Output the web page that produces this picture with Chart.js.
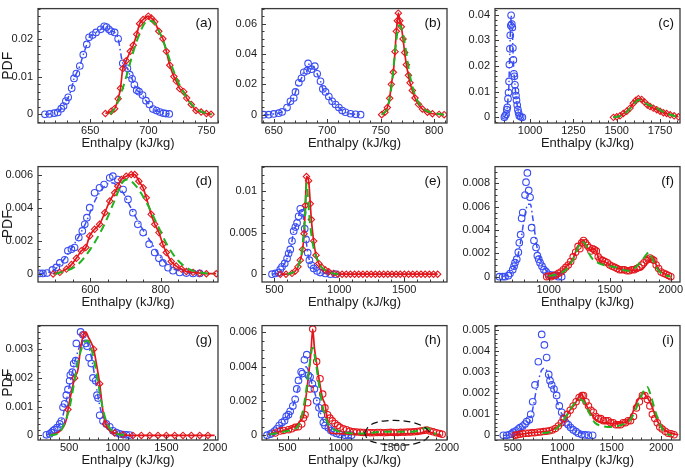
<!DOCTYPE html>
<html>
<head>
<meta charset="utf-8">
<script src="https://cdn.jsdelivr.net/npm/chart.js@4.4.0/dist/chart.umd.min.js"></script>
<style>
  html, body { margin: 0; padding: 0; background: #fff; width: 685px; height: 468px; overflow: hidden; position: relative; }
  canvas { position: absolute; }
</style>
</head>
<body>
<script>
// ─────────────────────────────────────────────────────────────
// Data (x = enthalpy kJ/kg, y = PDF)
// ─────────────────────────────────────────────────────────────

// (a)
const aXTicks = [650, 700, 750];
const aYTicks = [0, 0.01, 0.02];
const aBlue = [[611,0],[615,0.0001],[619,0.0003],[622,0.0005],[625,0.0015],[627,0.0022],[629,0.0035],[631,0.0045],[634,0.0069],[636,0.0095],[638,0.0108],[641,0.0128],[644,0.0158],[647,0.0185],[649,0.0204],[652,0.021],[655,0.0217],[659,0.0225],[662,0.0233],[664,0.0231],[666,0.0225],[668,0.022],[671,0.0217],[674,0.02],[678,0.0135],[682,0.0122],[684,0.0105],[686,0.0094],[688,0.0078],[690,0.0064],[692,0.006],[695,0.0051],[698,0.0036],[701,0.0026],[704,0.0014],[707,0.001],[710,0.0006],[713,0.0003],[715,0.0002],[718,0.0001]];
const aRed = [[663,0.0002],[668,0.0008],[671,0.0015],[674,0.0041],[676,0.0069],[678,0.0121],[681,0.0142],[684.5,0.0167],[687,0.0183],[690,0.0212],[692.5,0.024],[695.5,0.0251],[700,0.026],[702.5,0.0255],[705.5,0.0245],[709,0.022],[712.5,0.02],[715.5,0.0167],[718.5,0.013],[722,0.01],[724,0.0088],[727,0.0068],[730.5,0.006],[733,0.0043],[737,0.0026],[741,0.001],[745.5,0.0006],[750,0.0002],[754,0]];
const aGreen = [[667,0],[672,0.002],[677,0.006],[682,0.011],[687,0.0165],[692,0.021],[697,0.0242],[701,0.0248],[705,0.0243],[710,0.0215],[715,0.0175],[720,0.013],[725,0.009],[730,0.006],[735,0.0035],[740,0.0018],[745,0.0008],[750,0.0003],[755,0]];

// (b)
const bXTicks = [650, 700, 750, 800];
const bYTicks = [0, 0.02, 0.04, 0.06];
const bBlue = [[640.6,0],[645.3,0],[650,0.0005],[654.6,0.001],[657.8,0.0018],[662.4,0.0047],[665.6,0.0088],[668.7,0.011],[670.3,0.015],[673.4,0.021],[675.9,0.024],[678.1,0.028],[681.2,0.029],[682.1,0.0338],[685.3,0.03],[688.4,0.032],[690.6,0.027],[693.7,0.022],[695.9,0.017],[698.4,0.015],[701.5,0.012],[704.6,0.0088],[707.8,0.0067],[710.9,0.0047],[714,0.0027],[717.1,0.0016],[721.8,0.0006],[726.5,0.0002],[731.2,0]];
const bRed = [[750.9,0],[754,0.0016],[756.2,0.0047],[758.4,0.0108],[759.9,0.02],[761.8,0.028],[763.4,0.0416],[764.6,0.055],[765.6,0.062],[766.5,0.067],[767.8,0.062],[769.3,0.058],[770.9,0.05],[772.4,0.041],[774,0.033],[775.9,0.026],[777.4,0.021],[779.6,0.016],[782.1,0.011],[785.3,0.0068],[789,0.0037],[793.7,0.0016],[798.4,0.0006],[804.6,0.0002],[809.3,0]];
const bGreen = [[751,0],[756,0.004],[760,0.018],[764,0.045],[767,0.059],[770,0.056],[773,0.045],[777,0.027],[782,0.013],[790,0.004],[800,0.001],[809,0]];

// (c)
const cXTicks = [1000, 1250, 1500, 1750];
const cYTicks = [0, 0.01, 0.02, 0.03, 0.04];
const cBlue = [[852,0],[856,0.0006],[862,0.0012],[866,0.003],[869,0.0039],[873,0.0073],[876,0.0097],[879,0.014],[881,0.0206],[884,0.0267],[886,0.032],[889,0.0358],[891,0.0398],[895,0.0364],[898,0.035],[901,0.027],[904,0.0224],[907,0.017],[910,0.016],[913,0.0127],[916,0.0103],[919,0.0085],[922,0.0067],[926,0.0048],[930,0.003],[934,0.0018],[938,0.0006],[946,0.0002],[956,0]];
const cRed = [[1481,0],[1500,0.0002],[1519,0.0006],[1538,0.0015],[1558,0.0024],[1577,0.0036],[1596,0.0055],[1611,0.0067],[1625,0.0073],[1644,0.007],[1660,0.006],[1677,0.0048],[1692,0.0042],[1711,0.0036],[1731,0.003],[1750,0.0024],[1769,0.0018],[1788,0.0015],[1808,0.001],[1831,0.0006],[1856,0.0002]];
const cGreen = [[1480,0],[1520,0.0006],[1560,0.0022],[1600,0.0052],[1625,0.0068],[1645,0.0065],[1675,0.0052],[1700,0.0045],[1720,0.0042],[1750,0.0028],[1790,0.0015],[1830,0.0006],[1856,0.0002]];

// (d)
const dXTicks = [600, 800];
const dYTicks = [0, 0.002, 0.004, 0.006];
const dBlue = [[456,0.00004],[465,0.00004],[477,0.00006],[492,0.00025],[503,0.0004],[513,0.00067],[527,0.00086],[536,0.0014],[546,0.0015],[555,0.0016],[567,0.0022],[577,0.0026],[584,0.003],[590,0.0034],[598,0.004],[612,0.0049],[626,0.0052],[639,0.0054],[655,0.0058],[664,0.0059],[678,0.0057],[693,0.0051],[707,0.0045],[721,0.0037],[735,0.003],[750,0.0025],[767,0.0018],[783,0.0013],[795,0.00095],[806,0.00067],[821,0.00038],[835,0.0002],[854,0.0001],[873,0.00006],[892,0.00004],[911,0.00004]];
const dBlueLine = [[455,0],[500,0.0003],[545,0.0015],[585,0.003],[615,0.0045],[640,0.0053],[660,0.0055],[690,0.005],[715,0.004],[740,0.003],[770,0.002],[800,0.001],[830,0.0004],[870,0.0001],[900,0]];
const dRed = [[494,0],[513,0.0001],[532,0.0003],[546,0.00057],[560,0.00095],[574,0.0014],[587,0.0016],[598,0.0023],[612,0.0027],[626,0.003],[641,0.0037],[655,0.0044],[669,0.0049],[678,0.0053],[688,0.0057],[702,0.0059],[716,0.006],[726,0.006],[738,0.0056],[750,0.0052],[759,0.0046],[773,0.0036],[783,0.003],[795,0.0025],[806,0.0018],[816,0.0013],[830,0.00076],[844,0.00048],[859,0.0003],[873,0.00015],[892,0.0001],[911,0.00005],[930,0.00002],[958,0.00002]];
const dGreen = [[500,0],[560,0.0005],[600,0.0015],[640,0.003],[670,0.0045],[690,0.0055],[705,0.0057],[730,0.0053],[760,0.0043],[790,0.003],[820,0.0017],[850,0.0008],[880,0.0003],[910,0.0001],[950,0]];

// (e)
const eXTicks = [500, 1000, 1500];
const eYTicks = [0, 0.005, 0.01];
const eBlue = [[482,0],[508,0.0001],[533,0.0002],[546,0.0006],[559,0.0009],[580,0.0013],[598,0.0019],[610,0.0025],[623,0.003],[636,0.004],[649,0.0052],[662,0.0057],[675,0.0062],[687,0.007],[700,0.0079],[718,0.0074],[734,0.0055],[744,0.0042],[757,0.0026],[770,0.0017],[785,0.0011],[803,0.0007],[829,0.0004],[854,0.0002],[893,0.0001],[931,0],[970,0]];
const eRed = [[546,0],[590,0],[636,0.0001],[662,0.0004],[682,0.0009],[700,0.0017],[718,0.003],[729,0.0049],[739,0.0083],[747,0.0118],[764,0.0113],[777,0.0085],[785,0.0066],[803,0.004],[821,0.0023],[842,0.0013],[867,0.0008],[893,0.0005],[919,0.0003],[957,0.0001],[990,0],[1022,0],[1054,0],[1086,0],[1118,0],[1150,0],[1182,0],[1214,0],[1246,0],[1278,0],[1310,0],[1342,0],[1374,0],[1406,0],[1438,0],[1470,0],[1502,0],[1534,0],[1566,0],[1598,0],[1630,0],[1662,0],[1694,0],[1726,0],[1758,0]];
const eGreen = [[600,0],[660,0.0004],[690,0.0012],[710,0.0025],[725,0.0045],[738,0.0075],[748,0.011],[758,0.0095],[770,0.007],[785,0.0048],[805,0.003],[830,0.0018],[860,0.0009],[900,0.0004],[950,0.0001],[1000,0]];

// (f)
const fXTicks = [1000, 1500, 2000];
const fYTicks = [0, 0.002, 0.004, 0.006, 0.008];
const fBlue = [[596,0],[623,0],[642,0],[669,0.00008],[683,0.00027],[705,0.0006],[716,0.0009],[724,0.0012],[738,0.0015],[751,0.0021],[759,0.0029],[770,0.0036],[778,0.005],[787,0.0055],[806,0.007],[814,0.0081],[825,0.0089],[836,0.0074],[847,0.0068],[860,0.0042],[879,0.0031],[896,0.0025],[907,0.0018],[918,0.0015],[929,0.0012],[945,0.0009],[961,0.0006],[978,0.00043],[997,0.0002],[1024,0.00014],[1051,0.0001],[1079,0],[1106,0]];
const fBlueLine = [[620,0],[700,0.0004],[740,0.0015],[770,0.003],[800,0.005],[830,0.0062],[850,0.0062],[870,0.005],[890,0.0035],[910,0.0022],[940,0.0012],[980,0.0005],[1020,0.0002],[1080,0]];
const fRed = [[983,0],[1000,0.00005],[1020,0],[1040,0.0001],[1060,0.00015],[1080,0.0003],[1100,0.0004],[1120,0.0006],[1140,0.0008],[1160,0.001],[1180,0.0013],[1200,0.0017],[1220,0.0021],[1240,0.0026],[1255,0.0024],[1270,0.0029],[1285,0.0031],[1300,0.0029],[1315,0.0027],[1330,0.0025],[1345,0.0022],[1360,0.0024],[1375,0.0023],[1390,0.0022],[1405,0.0017],[1420,0.0015],[1440,0.0014],[1460,0.0013],[1480,0.0012],[1500,0.001],[1520,0.0009],[1540,0.0008],[1560,0.0007],[1580,0.0006],[1600,0.0006],[1620,0.0006],[1640,0.0005],[1660,0.0005],[1680,0.0006],[1700,0.0006],[1720,0.0007],[1740,0.0008],[1760,0.001],[1780,0.0012],[1800,0.0014],[1815,0.0015],[1830,0.0016],[1845,0.0015],[1860,0.0014],[1880,0.001],[1900,0.0007],[1920,0.0004],[1940,0.0003],[1960,0.0002],[1980,0.0001],[2000,0]];
const fRedLine = [[983,0],[1010,0],[1038,0.00008],[1065,0.0002],[1092,0.00035],[1120,0.0006],[1147,0.0009],[1174,0.0012],[1202,0.0016],[1229,0.0024],[1256,0.0029],[1280,0.0031],[1305,0.0027],[1324,0.0024],[1352,0.0023],[1371,0.0024],[1393,0.0021],[1415,0.0014],[1447,0.0013],[1502,0.001],[1556,0.00076],[1611,0.0006],[1666,0.00054],[1720,0.00054],[1761,0.0006],[1789,0.0009],[1816,0.0013],[1843,0.0016],[1862,0.0015],[1884,0.0009],[1911,0.0005],[1939,0.0003],[1966,0.00016],[1993,0.00008]];
const fGreen = [[1000,0.00005],[1100,0.0003],[1150,0.0007],[1200,0.0015],[1240,0.0025],[1270,0.003],[1300,0.0028],[1330,0.002],[1360,0.0015],[1400,0.0012],[1450,0.001],[1500,0.0009],[1550,0.0008],[1600,0.0006],[1650,0.0005],[1700,0.0007],[1750,0.0012],[1800,0.0019],[1820,0.0021],[1850,0.0015],[1880,0.0008],[1920,0.0003],[1960,0.0001],[2000,0]];

// (g)
const gXTicks = [500, 1000, 1500, 2000];
const gYTicks = [0, 0.001, 0.002, 0.003];
const gBlue = [[266,0.00002],[300,0.00005],[317,0.0001],[334,0.00016],[351,0.0002],[375,0.00027],[403,0.0004],[420,0.0005],[437,0.00098],[454,0.0011],[471,0.0014],[488,0.0016],[505,0.0019],[512,0.0021],[533,0.0022],[547,0.0025],[567,0.0026],[574,0.0032],[618,0.0036],[642,0.0035],[670,0.0032],[684,0.0031],[704,0.0027],[728,0.0025],[745,0.002],[773,0.0019],[786,0.0014],[797,0.0013],[814,0.0007],[848,0.0005],[882,0.0004],[917,0.0003],[951,0.00016],[985,0.0001],[1019,0.00005],[1054,0.00003],[1088,0.00002],[1122,0.00001]];
const gBlueLine = [[266,0],[350,0.0002],[420,0.0005],[470,0.0012],[520,0.002],[570,0.0027],[620,0.0032],[650,0.0033],[690,0.0032],[730,0.0027],[770,0.0019],[810,0.0011],[850,0.0006],[900,0.0003],[960,0.0001],[1050,0],[1120,0]];
const gRed = [[488,0.0009],[557,0.002],[643,0.0035],[752,0.003],[814,0.0018],[875,0.0004],[968,0.00008],[1054,0.00002],[1156,0],[1242,0],[1328,0],[1413,0],[1499,0],[1585,0],[1670,0],[1756,0],[1842,0],[1927,0]];
const gRedLine = [[300,0],[386,0.0001],[437,0.00027],[471,0.00055],[488,0.0009],[523,0.0015],[557,0.002],[591,0.0023],[620,0.0031],[650,0.0035],[670,0.0036],[700,0.0034],[730,0.0032],[752,0.003],[780,0.0025],[814,0.0018],[845,0.0009],[875,0.0004],[920,0.00015],[968,0.00008],[1054,0.00002],[1156,0],[1996,0]];
const gGreen = [[300,0],[400,0.0001],[450,0.0004],[500,0.0009],[550,0.0018],[600,0.0027],[650,0.0032],[690,0.0033],[730,0.003],[780,0.0022],[830,0.0012],[880,0.0005],[930,0.0002],[1000,0.00005],[1100,0]];

// (h)
const hXTicks = [500, 1000, 1500, 2000];
const hYTicks = [0, 0.002, 0.004, 0.006];
const hBlue = [[307,0],[338,0.00006],[353,0.00013],[378,0.00024],[400,0.00037],[422,0.00056],[447,0.00074],[472,0.00084],[488,0.0011],[509,0.0012],[525,0.0014],[550,0.0017],[572,0.0021],[587,0.0027],[603,0.0032],[628,0.0037],[640,0.0036],[659,0.0044],[681,0.0047],[696,0.0035],[712,0.0034],[734,0.003],[753,0.0027],[774,0.002],[796,0.0016],[821,0.0012],[837,0.00074],[852,0.00056],[884,0.00043],[908,0.00028],[930,0.00019],[961,0.0001],[993,0.00004],[1040,0],[1071,0],[1102,0]];
const hBlueLine = [[307,0],[400,0.0003],[450,0.0006],[500,0.0011],[550,0.0017],[590,0.0025],[620,0.0033],[650,0.0038],[675,0.004],[700,0.0037],[730,0.003],[760,0.0024],[790,0.0017],[820,0.0011],[850,0.0007],[900,0.0003],[960,0.0001],[1040,0],[1100,0]];
const hRed = [[385,0.00013],[431,0.00024],[463,0.00028],[509,0.00032],[541,0.00037],[572,0.00046],[603,0.0005],[634,0.00065],[650,0.001],[665,0.0012],[690,0.0019],[712,0.0027],[737,0.0062],[774,0.0043],[806,0.0033],[831,0.0024],[852,0.0016],[877,0.0012],[899,0.001],[921,0.00084],[946,0.00069],[971,0.00056],[993,0.00046],[1024,0.00037],[1055,0.00032],[1086,0.00024],[1120,0.0002],[1150,0.00018],[1185,0.00017],[1215,0.00016],[1250,0.00016],[1280,0.00015],[1310,0.00015],[1345,0.00016],[1375,0.00016],[1410,0.00015],[1440,0.00016],[1470,0.00017],[1500,0.00016],[1535,0.00016],[1565,0.00017],[1600,0.00017],[1630,0.00018],[1660,0.00018],[1690,0.0002],[1720,0.00022],[1750,0.00024],[1780,0.00028],[1810,0.0003],[1840,0.00025],[1870,0.0002],[1900,0.00015],[1930,0.0001],[1955,0.00006]];
const hRedLine = [[322,0.00004],[385,0.00015],[447,0.00024],[509,0.00037],[556,0.0005],[587,0.00056],[619,0.00084],[650,0.0011],[665,0.0018],[696,0.0034],[721,0.0049],[737,0.0062],[753,0.0051],[774,0.0042],[799,0.0032],[828,0.0022],[852,0.0018],[868,0.0012],[890,0.00028],[908,0.00013],[946,0.0001],[1164,0.00006],[1476,0.00006],[1663,0.0001],[1757,0.00013],[1803,0.00024],[1835,0.00019],[1881,0.0001],[1944,0]];
const hGreen = [[330,0.00005],[400,0.00012],[500,0.00025],[580,0.0004],[620,0.0008],[650,0.0016],[680,0.0028],[710,0.0042],[735,0.0051],[760,0.0045],[790,0.0032],[820,0.002],[850,0.0012],[880,0.0007],[920,0.0004],[970,0.00025],[1050,0.00015],[1150,0.0001],[1250,0.00012],[1350,0.00018],[1450,0.0002],[1550,0.0002],[1650,0.0002],[1720,0.00025],[1790,0.0004],[1820,0.0004],[1860,0.0002],[1900,0.00005]];
const hEllipse = [[1225,0.00012],[1265,0.00052],[1345,0.00076],[1450,0.00085],[1560,0.00085],[1665,0.00076],[1755,0.00058],[1810,0.00036],[1835,0.00012],[1805,-0.00022],[1725,-0.00045],[1625,-0.00056],[1520,-0.00058],[1415,-0.00053],[1320,-0.00042],[1255,-0.00022],[1225,0.00012]];

// (i)
const iXTicks = [500, 1000, 1500, 2000];
const iYTicks = [0, 0.001, 0.002, 0.003, 0.004, 0.005];
const iBlue = [[404,0],[438,0],[465,0.00004],[488,0.00007],[505,0.00015],[532,0.00022],[556,0.0003],[573,0.00037],[600,0.00044],[623,0.00054],[640,0.00066],[667,0.00074],[681,0.001],[701,0.0016],[724,0.0024],[758,0.0035],[792,0.0048],[819,0.0043],[842,0.0037],[863,0.0029],[876,0.0026],[893,0.0024],[916,0.0022],[943,0.0019],[970,0.0014],[994,0.0011],[1011,0.0008],[1038,0.0006],[1061,0.0005],[1085,0.00037],[1112,0.00026],[1139,0.00018],[1162,0.0001],[1196,0.00004],[1230,0.00002],[1264,0.00001],[1307,0]];
const iBlueLine = [[405,0],[500,0.00005],[560,0.0002],[620,0.0004],[674,0.0007],[708,0.0014],[735,0.0021],[758,0.0026],[792,0.0031],[825,0.0032],[849,0.003],[876,0.0026],[910,0.0023],[937,0.0018],[977,0.0012],[1011,0.0009],[1045,0.0006],[1095,0.00037],[1146,0.0002],[1213,0.00007],[1280,0]];
const iRed = [[522,0],[545,0.00003],[570,0.00005],[600,0.00008],[630,0.0001],[660,0.0001],[690,0.00012],[720,0.00013],[750,0.00015],[780,0.00016],[810,0.00018],[840,0.0002],[870,0.00022],[900,0.00026],[930,0.00033],[960,0.00045],[990,0.0006],[1020,0.0008],[1050,0.001],[1080,0.0012],[1110,0.0014],[1140,0.0016],[1170,0.0018],[1200,0.0019],[1215,0.0019],[1240,0.0016],[1265,0.0014],[1290,0.0012],[1315,0.0011],[1340,0.0009],[1365,0.0008],[1390,0.0008],[1415,0.0007],[1440,0.0007],[1465,0.0007],[1490,0.0006],[1515,0.0006],[1540,0.0005],[1565,0.0005],[1590,0.0005],[1615,0.0006],[1640,0.0006],[1665,0.0007],[1690,0.0007],[1720,0.0009],[1750,0.0013],[1780,0.0016],[1810,0.0019],[1835,0.0019],[1860,0.0017],[1885,0.0014],[1910,0.001],[1935,0.0008],[1960,0.0006],[1985,0.0004],[2010,0.0003],[2040,0.0002],[2070,0.0001],[2100,0.00008],[2130,0.00003]];
const iRedLine = [[522,0],[606,0.00007],[674,0.00012],[741,0.00015],[809,0.00018],[876,0.00022],[927,0.00034],[977,0.0005],[1028,0.0008],[1078,0.0012],[1129,0.0015],[1162,0.0018],[1196,0.002],[1213,0.0018],[1247,0.0014],[1280,0.0011],[1314,0.0009],[1348,0.0007],[1398,0.0006],[1449,0.0006],[1500,0.00055],[1550,0.00057],[1600,0.0006],[1651,0.00066],[1702,0.00096],[1735,0.0014],[1779,0.0018],[1820,0.002],[1860,0.0018],[1904,0.0014],[1938,0.00096],[1971,0.0006],[2022,0.0003],[2072,0.00015],[2123,0.00007],[2173,0.00003]];
const iGreen = [[800,0.0001],[900,0.0002],[980,0.0005],[1050,0.001],[1120,0.0015],[1180,0.0017],[1230,0.0015],[1280,0.001],[1330,0.0006],[1400,0.00045],[1500,0.0004],[1600,0.0005],[1680,0.0007],[1740,0.0012],[1800,0.0019],[1860,0.0023],[1900,0.0018],[1950,0.001],[2000,0.0004],[2050,0.0001],[2100,0]];

// ─────────────────────────────────────────────────────────────
// Layout
// ─────────────────────────────────────────────────────────────

const BLUE = '#3a4ef2';
const RED = '#e3161c';
const GREEN = '#20b320';
const FONT = '"Liberation Sans", Arial, sans-serif';

const cols = [[38, 218], [262, 447], [495, 680]];   // plot box left/right
const rows = [[1, 123], [159, 282], [318, 440]];    // plot box top/bottom
const AXW = 38, AXH = 28, PADR = 20, PADT = 4;

const panels = [
    { label: '(a)', col: 0, row: 0, x: [605, 760], y: [-0.0023, 0.028], xt: aXTicks, yt: aYTicks, xm: 10, ym: 0.002,
      blue: aBlue, blueLine: aBlue, red: aRed, redLine: aRed, green: aGreen, shape: 'rectRot' },
    { label: '(b)', col: 1, row: 0, x: [639, 812], y: [-0.0055, 0.070], xt: bXTicks, yt: bYTicks, xm: 10, ym: 0.005,
      blue: bBlue, blueLine: bBlue, red: bRed, redLine: bRed, green: bGreen, shape: 'rectRot' },
    { label: '(c)', col: 2, row: 0, x: [798, 1865], y: [-0.0022, 0.0424], xt: cXTicks, yt: cYTicks, xm: 50, ym: 0.002,
      blue: cBlue, blueLine: cBlue, red: cRed, redLine: cRed, green: cGreen, shape: 'rectRot' },
    { label: '(d)', col: 0, row: 1, x: [451, 963], y: [-0.00048, 0.00648], xt: dXTicks, yt: dYTicks, xm: 50, ym: 0.0005,
      blue: dBlue, blueLine: dBlueLine, red: dRed, redLine: dRed, green: dGreen, shape: 'rectRot' },
    { label: '(e)', col: 1, row: 1, x: [405, 1830], y: [-0.00094, 0.013], xt: eXTicks, yt: eYTicks, xm: 100, ym: 0.001,
      blue: eBlue, blueLine: eBlue, red: eRed, redLine: eRed, green: eGreen, shape: 'rectRot' },
    { label: '(f)', col: 2, row: 1, x: [560, 2075], y: [-0.00046, 0.00944], xt: fXTicks, yt: fYTicks, xm: 100, ym: 0.0005,
      blue: fBlue, blueLine: fBlueLine, red: fRed, redLine: fRedLine, green: fGreen, shape: 'circle' },
    { label: '(g)', col: 0, row: 2, x: [180, 2030], y: [-0.00016, 0.00382], xt: gXTicks, yt: gYTicks, xm: 100, ym: 0.0002,
      blue: gBlue, blueLine: gBlueLine, red: gRed, redLine: gRedLine, green: gGreen, shape: 'rectRot' },
    { label: '(h)', col: 1, row: 2, x: [260, 2000], y: [-0.00028, 0.0064], xt: hXTicks, yt: hYTicks, xm: 100, ym: 0.0005,
      blue: hBlue, blueLine: hBlueLine, red: hRed, redLine: hRedLine, green: hGreen, shape: 'circle', ellipse: hEllipse },
    { label: '(i)', col: 2, row: 2, x: [320, 2190], y: [-0.00022, 0.00522], xt: iXTicks, yt: iYTicks, xm: 100, ym: 0.0002,
      blue: iBlue, blueLine: iBlueLine, red: iRed, redLine: iRedLine, green: iGreen, shape: 'circle' }
];

function stepValues(min, max, step) {
    const out = [];
    for (let k = Math.ceil(min / step - 1e-6); k * step <= max + step * 1e-6; k++) out.push(k * step);
    return out;
}

// frame, inward tick marks and panel letter
const framePlugin = {
    id: 'frame',
    afterDraw(chart, args, o) {
        const { ctx, chartArea: a, scales: { x, y } } = chart;
        ctx.save();
        ctx.strokeStyle = '#3a3a3a';
        ctx.lineWidth = 1;
        ctx.beginPath();
        stepValues(x.min, x.max, o.xm).forEach(v => {
            const major = o.xt.some(t => Math.abs(t - v) < o.xm * 1e-3);
            const px = Math.round(x.getPixelForValue(v)) + 0.5;
            ctx.moveTo(px, a.bottom);
            ctx.lineTo(px, a.bottom - (major ? 4 : 2.5));
        });
        stepValues(y.min, y.max, o.ym).forEach(v => {
            const major = o.yt.some(t => Math.abs(t - v) < o.ym * 1e-3);
            const py = Math.round(y.getPixelForValue(v)) + 0.5;
            ctx.moveTo(a.left, py);
            ctx.lineTo(a.left + (major ? 4 : 2.5), py);
        });
        ctx.stroke();
        ctx.lineWidth = 1.3;
        ctx.strokeRect(a.left, a.top, a.right - a.left, a.bottom - a.top);
        ctx.fillStyle = '#111';
        ctx.font = '13.5px ' + FONT;
        ctx.textAlign = 'right';
        ctx.textBaseline = 'middle';
        ctx.fillText(o.label, a.right - 6, a.top + 15);
        ctx.restore();
    }
};

const toXY = arr => arr.map(p => ({ x: p[0], y: p[1] }));

function buildChart(p) {
    const [left, right] = cols[p.col];
    const [top, bottom] = rows[p.row];
    const w = AXW + (right - left) + PADR;
    const h = PADT + (bottom - top) + AXH;

    const canvas = document.createElement('canvas');
    canvas.width = w;
    canvas.height = h;
    canvas.style.left = (left - AXW) + 'px';
    canvas.style.top = (top - PADT) + 'px';
    canvas.style.width = w + 'px';
    canvas.style.height = h + 'px';
    document.body.appendChild(canvas);

    const lineBase = { showLine: true, pointRadius: 0, fill: false, cubicInterpolationMode: 'monotone' };
    const datasets = [
        Object.assign({ data: toXY(p.green), borderColor: GREEN, borderWidth: 2, borderDash: [8, 5] }, lineBase),
        Object.assign({ data: toXY(p.redLine), borderColor: RED, borderWidth: 1.7 }, lineBase),
        { data: toXY(p.red), showLine: false, pointStyle: p.shape, pointRadius: 3.2, pointBorderWidth: 1.1,
          pointBorderColor: RED, pointBackgroundColor: 'rgba(0,0,0,0)' },
        Object.assign({ data: toXY(p.blueLine), borderColor: BLUE, borderWidth: 1.5, borderDash: [6, 3, 1.5, 3] }, lineBase),
        { data: toXY(p.blue), showLine: false, pointStyle: 'circle', pointRadius: 3.3, pointBorderWidth: 1.1,
          pointBorderColor: BLUE, pointBackgroundColor: 'rgba(0,0,0,0)' }
    ];
    if (p.ellipse) {
        datasets.unshift({ data: toXY(p.ellipse), showLine: true, pointRadius: 0, borderColor: '#111', borderWidth: 1.2,
                           borderDash: [7, 4], tension: 0.45, clip: false });
    }

    const fontTicks = { family: FONT, size: 11 };
    new Chart(canvas, {
        type: 'scatter',
        data: { datasets },
        options: {
            responsive: false,
            animation: false,
            events: [],
            layout: { padding: { top: PADT, right: PADR, left: 0, bottom: 0 } },
            plugins: {
                legend: { display: false },
                tooltip: { enabled: false },
                frame: { label: p.label, xt: p.xt, yt: p.yt, xm: p.xm, ym: p.ym }
            },
            scales: {
                x: {
                    type: 'linear', min: p.x[0], max: p.x[1],
                    grid: { display: false, drawTicks: false },
                    border: { display: false },
                    afterBuildTicks: s => { s.ticks = p.xt.map(v => ({ value: v })); },
                    afterFit: s => { s.height = AXH; },
                    ticks: { autoSkip: false, maxRotation: 0, padding: 1, color: '#1a1a1a', font: fontTicks,
                             callback: v => String(v) },
                    title: { display: true, text: 'Enthalpy (kJ/kg)', color: '#1a1a1a',
                             font: { family: FONT, size: 13 }, padding: 0 }
                },
                y: {
                    type: 'linear', min: p.y[0], max: p.y[1],
                    grid: { display: false, drawTicks: false },
                    border: { display: false },
                    afterBuildTicks: s => { s.ticks = p.yt.map(v => ({ value: v })); },
                    afterFit: s => { s.width = AXW; },
                    ticks: { autoSkip: false, padding: 5, color: '#1a1a1a', font: fontTicks,
                             callback: v => String(v) },
                    title: { display: p.col === 0, text: 'PDF', color: '#1a1a1a',
                             font: { family: FONT, size: 14 }, padding: 0 }
                }
            }
        },
        plugins: [framePlugin]
    });
}

panels.forEach(buildChart);
</script>
</body>
</html>
